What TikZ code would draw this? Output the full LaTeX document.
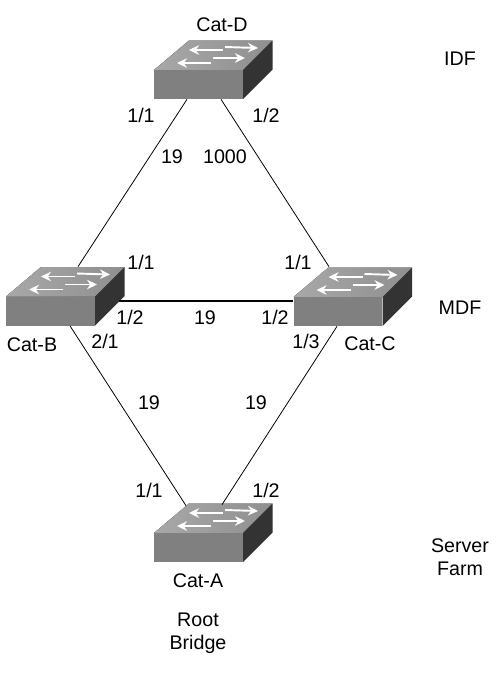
\documentclass[tikz,border=0pt]{standalone}
\usepackage{fontspec}
\setmainfont{Liberation Sans}
\usepackage{tikz}
\usetikzlibrary{arrows.meta, positioning, calc}

\definecolor{swfront}{gray}{0.5}
\definecolor{swside}{gray}{0.2}
\definecolor{swtopA}{gray}{0.66}
\definecolor{swtopB}{gray}{0.56}

\begin{document}
\begin{tikzpicture}[
    x=0.02cm, y=-0.02cm,
    lbl/.style={font=\fontsize{11.2}{13.3}\selectfont, inner sep=0pt, align=center},
    front/.style={rectangle, fill=swfront, minimum width=1.78cm, minimum height=0.58cm, inner sep=0pt},
    link/.style={draw, line width=0.45pt},
    trunk/.style={draw, line width=0.6pt},
    flow/.style={draw=white, line width=1.1pt, -{Stealth[length=2mm, width=1.9mm]}},
    switchbox/.pic={
        \fill[left color=swtopA, right color=swtopB] (-44.5,-14.5) -- (-9.5,-44) -- (74,-44) -- (44.5,-14.5) -- cycle;
        \fill[swside] (44.5,-14.5) -- (74,-44) -- (74,-15) -- (44.5,14.5) -- cycle;
        \draw[flow] (24.5,-34.5) -- (-9.5,-34.5);
        \draw[flow] (26.5,-37.5) -- (59.5,-36.5);
        \draw[flow] (14.5,-26.5) -- (46.5,-26.5);
        \draw[flow] (12.5,-21.5) -- (-21.5,-21.5);
    }
]
\useasboundingbox (0,0) rectangle (500,674);

\pic at (198.5,84.5) {switchbox};
\pic at (50.5,311) {switchbox};
\pic at (338,311.5) {switchbox};
\pic at (198.5,547.5) {switchbox};
\node[front] (catD) at (198.5,84.5) {};
\node[front] (catB) at (50.5,311) {};
\node[front] (catC) at (338,311.5) {};
\node[front] (catA) at (198.5,547.5) {};

% links
\draw[link] ($(catD.south)+(-11.5,0)$) -- ($(catB.north)+(27.5,-29.5)$);
\draw[link] ($(catD.south)+(22.5,0)$) -- ($(catC.north)+(-9,-30)$);
\draw[trunk] ($(catB.east)+(24,-10)$) -- ($(catC.west)+(0,-10.5)$);
\draw[link] ($(catB.south)+(19.5,0)$) -- ($(catA.north)+(-12.5,-27)$);
\draw[link] ($(catC.south)+(-1,0)$) -- ($(catA.north)+(23.5,-28)$);

% switch names
\node[lbl] (nameD) at (222,25) {Cat-D};
\node[lbl] (nameB) at (32,345) {Cat-B};
\node[lbl] (nameC) at (370,344) {Cat-C};
\node[lbl] (nameA) at (198,581) {Cat-A};

% layers
\node[lbl] (idf) at (460,59) {IDF};
\node[lbl] (mdf) at (460,308) {MDF};
\node[lbl] (farm) at (460,557.5) {Server\\Farm};
\node[lbl] (root) at (198,633) {Root\\Bridge};

% ports and costs
\node[lbl] (p1) at (141,115) {1/1};
\node[lbl] (p2) at (266,115) {1/2};
\node[lbl] (c1) at (172,157) {19};
\node[lbl] (c2) at (225,157) {1000};
\node[lbl] (p3) at (141,262) {1/1};
\node[lbl] (p4) at (298,262) {1/1};
\node[lbl] (p5) at (130,317) {1/2};
\node[lbl] (c3) at (205,318) {19};
\node[lbl] (p6) at (275,317) {1/2};
\node[lbl] (p7) at (105,341) {2/1};
\node[lbl] (p8) at (306,341) {1/3};
\node[lbl] (c4) at (149,403) {19};
\node[lbl] (c5) at (256,403) {19};
\node[lbl] (p9) at (149,490) {1/1};
\node[lbl] (p10) at (266,490) {1/2};
\end{tikzpicture}
\end{document}
